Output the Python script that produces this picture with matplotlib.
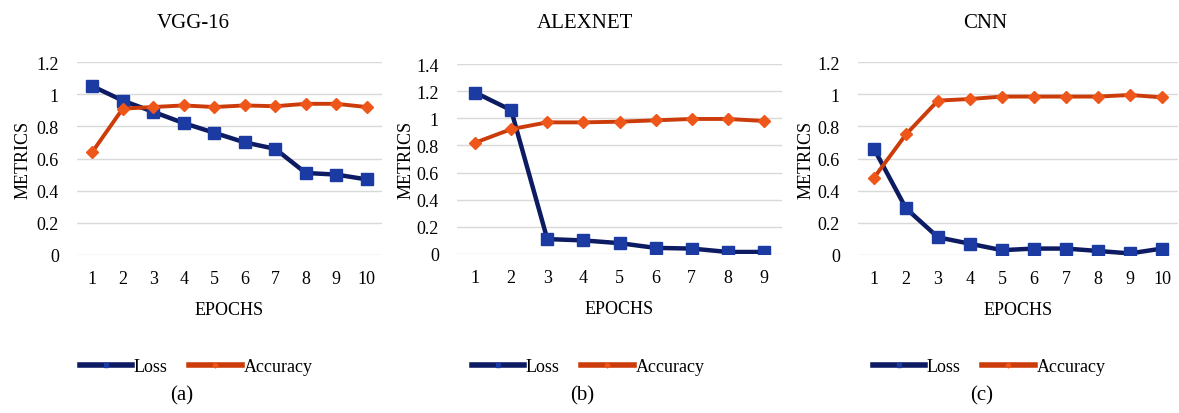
import matplotlib
matplotlib.use("Agg")
import matplotlib.pyplot as plt
from matplotlib.lines import Line2D

plt.rcParams['font.family'] = ['Liberation Serif', 'DejaVu Serif']

# --- data ---
vgg_epochs = [1, 2, 3, 4, 5, 6, 7, 8, 9, 10]
vgg_loss = [1.05, 0.96, 0.89, 0.82, 0.76, 0.70, 0.66, 0.51, 0.50, 0.47]
vgg_acc = [0.64, 0.91, 0.92, 0.93, 0.92, 0.93, 0.925, 0.94, 0.94, 0.92]

alex_epochs = [1, 2, 3, 4, 5, 6, 7, 8, 9]
alex_loss = [1.19, 1.06, 0.11, 0.10, 0.08, 0.045, 0.04, 0.015, 0.015]
alex_acc = [0.82, 0.92, 0.97, 0.97, 0.975, 0.985, 0.995, 0.995, 0.98]

cnn_epochs = [1, 2, 3, 4, 5, 6, 7, 8, 9, 10]
cnn_loss = [0.66, 0.29, 0.11, 0.07, 0.03, 0.04, 0.04, 0.025, 0.01, 0.04]
cnn_acc = [0.48, 0.75, 0.96, 0.97, 0.985, 0.985, 0.985, 0.985, 0.995, 0.98]

titles = ["VGG-16", "ALEXNET", "CNN"]
captions = ["(a)", "(b)", "(c)"]

LOSS_LINE = "#0C1B62"
LOSS_FACE = "#1B3AA2"
ACC_LINE = "#CC3C0A"
ACC_FACE = "#EE561A"
GRID = "#D9D9D9"

W, H = 1179, 414
fig = plt.figure(figsize=(W / 100, H / 100), dpi=100)

# axes boxes in figure fractions (left, bottom, width, height)
boxes = [
    (77 / W, 1 - 256 / H, 305 / W, 193 / H),
    (457 / W, 1 - 255 / H, 325 / W, 190 / H),
    (858 / W, 1 - 256 / H, 320 / W, 193 / H),
]
ymaxes = [1.2, 1.4, 1.2]
ylabel_x = [-0.15, -0.132, -0.137]
title_x = [193, 585, 985]
legend_x = [196, 588, 989]
caption_x = [182, 582, 982]
panels = [
    (vgg_epochs, vgg_loss, vgg_acc),
    (alex_epochs, alex_loss, alex_acc),
    (cnn_epochs, cnn_loss, cnn_acc),
]

for i, (epochs, loss, acc) in enumerate(panels):
    ax = fig.add_axes(boxes[i])
    ax.plot(epochs, loss, color=LOSS_LINE, lw=3.2, marker="s", ms=8,
            mfc=LOSS_FACE, mec=LOSS_FACE, zorder=3)
    ax.plot(epochs, acc, color=ACC_LINE, lw=2.8, marker="D", ms=6,
            mfc=ACC_FACE, mec=ACC_FACE, zorder=4)

    ymax = ymaxes[i]
    ax.set_ylim(0, ymax)
    ax.set_xlim(0.5, len(epochs) + 0.5)
    ticks = [round(0.2 * k, 1) for k in range(int(round(ymax / 0.2)) + 1)]
    ax.set_yticks(ticks)
    ax.set_yticklabels([f"{t:g}" for t in ticks])
    ax.set_xticks(epochs)
    ax.grid(axis="y", color=GRID, lw=1)
    ax.set_axisbelow(True)
    for s in ax.spines.values():
        s.set_visible(False)
    ax.tick_params(length=0, labelsize=13)
    ax.tick_params(axis="y", pad=13)
    ax.tick_params(axis="x", pad=11)

    ax.set_xlabel("EPOCHS", fontsize=13, labelpad=10)
    ax.set_ylabel("METRICS", fontsize=13)
    ax.yaxis.set_label_coords(ylabel_x[i], 0.5)

    fig.text(title_x[i] / W, 1 - 24 / H, titles[i], ha="center", va="center", fontsize=15)

    handles = [
        Line2D([], [], color=LOSS_LINE, lw=4, marker="s", ms=3, mfc=LOSS_FACE, mec=LOSS_FACE),
        Line2D([], [], color=ACC_LINE, lw=4, marker="D", ms=2.5, mfc=ACC_FACE, mec=ACC_FACE),
    ]
    ax.legend(handles, ["Loss", "Accuracy"], loc="center", frameon=False,
              bbox_to_anchor=(legend_x[i] / W, 1 - 368 / H), bbox_transform=fig.transFigure,
              ncol=2, fontsize=13, handlelength=2.9, handletextpad=0.1, columnspacing=1.2)

    fig.text(caption_x[i] / W, 1 - 396 / H, captions[i], ha="center", va="center", fontsize=15)

fig.savefig("out.png", dpi=100)
